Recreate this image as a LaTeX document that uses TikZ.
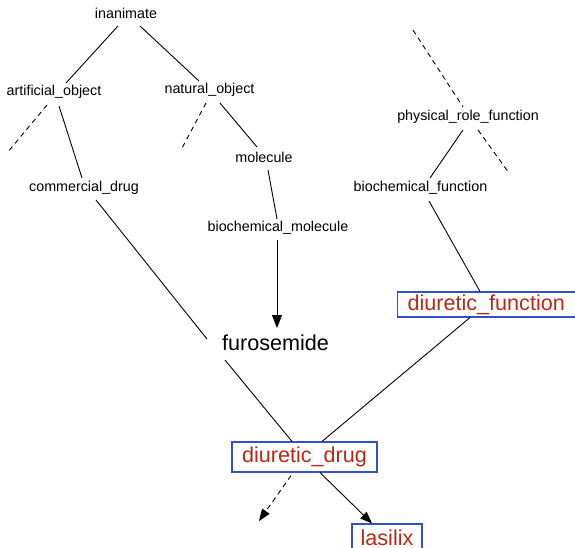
\documentclass[tikz,border=0pt]{standalone}
\usepackage{fontspec}
\setmainfont{Liberation Sans}
\usetikzlibrary{calc,arrows.meta}

\definecolor{termred}{RGB}{185,40,20}
\definecolor{boxblue}{RGB}{50,80,200}

\tikzset{
  concept/.style={inner sep=0pt, font=\fontsize{14.3}{17}\selectfont},
  bigconcept/.style={inner sep=0pt, font=\fontsize{21.6}{26}\selectfont},
  termbox/.style={draw=boxblue, line width=1.1pt, inner sep=0pt,
    text=termred, font=\fontsize{21.6}{26}\selectfont},
  link/.style={line width=0.9pt},
  elided/.style={line width=0.9pt, dash pattern=on 5pt off 4pt},
  tip/.style={-{Triangle[length=12pt,width=9pt]}}
}

\begin{document}
\begin{tikzpicture}[x=1pt,y=-1pt]
  \useasboundingbox (0,0) rectangle (575,547);
  \clip (0,0) rectangle (575,547);

  % upper ontology
  \node[concept] (I) at (126,13) {inanimate};
  \node[concept] (A) at (54,92) {artificial\_object};
  \node[concept] (N) at (209.5,90) {natural\_object};
  \node[concept] (M) at (264,157) {molecule};
  \node[concept] (C) at (84,188) {commercial\_drug};
  \node[concept] (B) at (278,228) {biochemical\_molecule};
  \node[concept] (P) at (468,117) {physical\_role\_function};
  \node[concept] (F) at (420.5,188) {biochemical\_function};
  \node[bigconcept] (U) at (275.5,343) {furosemide};

  % boxed terms; the first one runs past the right margin
  \node[termbox, anchor=west, inner xsep=10pt, text width=175pt, align=left,
        minimum height=25pt] (DF) at (397,304.5) {diuretic\_function};
  \node[termbox, minimum width=145pt, minimum height=30pt] (DD) at (304.5,457) {diuretic\_drug};
  \node[termbox, minimum width=70pt, minimum height=28pt] (L) at (387,538) {lasilix};

  % free ends of the elided branches
  \coordinate (aout) at (7,153);
  \coordinate (nout) at (181,150);
  \coordinate (ptop) at (413,30);
  \coordinate (pout) at (509,173);
  \coordinate (dout) at (259,521);

  % solid links
  \draw[link] ($(I)+(-8,13)$) -- ($(A)+(12,-9)$);
  \draw[link] ($(I)+(14,13)$) -- ($(N)+(-10.5,-9)$);
  \draw[link] ($(A)+(5,14)$) -- ($(C)+(-2,-10)$);
  \draw[link] ($(N)+(10.5,13)$) -- ($(M)+(-7,-10)$);
  \draw[link] ($(M)+(4,13)$) -- ($(B)+(-1,-9)$);
  \draw[link] ($(C)+(12,12)$) -- ($(U)+(-68.5,-4)$);
  \draw[link] ($(P)+(-5,13)$) -- ($(F)+(9.5,-10)$);
  \draw[link] ($(F)+(8.5,13)$) -- ($(DF.north west)+(83,0)$);
  \draw[link] ($(DF.south west)+(73,0)$) -- ($(DD.north)+(17.5,0)$);
  \draw[link] ($(U)+(-50.5,17)$) -- ($(DD.north)+(-12.5,0)$);

  % arrows
  \draw[link, -{Triangle[length=13pt,width=10pt]}] ($(B)+(-1,12)$) -- ($(U)+(1.5,-15)$);
  \draw[link, tip] ($(DD.south)+(15.5,0)$) -- ($(L.north)+(-15,0)$);
  \draw[elided, tip] ($(DD.south)+(-13.5,3)$) -- (dout);

  % elided branches
  \draw[elided] ($(A)+(-7,13)$) -- (aout);
  \draw[elided] ($(N)+(-3.5,13)$) -- (nout);
  \draw[elided] (ptop) -- ($(P)+(-5,-10)$);
  \draw[elided] ($(P)+(10,13)$) -- (pout);
\end{tikzpicture}
\end{document}
